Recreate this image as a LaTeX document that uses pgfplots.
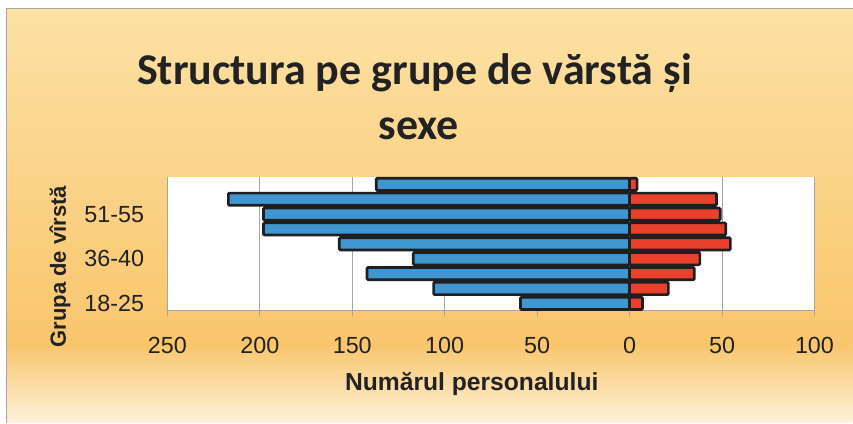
\documentclass[border=0pt]{standalone}
\usepackage{pgfplots}
\pgfplotsset{compat=1.18}
\usepackage{fontspec}
\setmainfont{Liberation Sans}
\newfontfamily\titlefont{Carlito}
\definecolor{barblue}{HTML}{3F96D1}
\definecolor{barred}{HTML}{EA412C}
\definecolor{bgtop}{HTML}{FCE1A4}
\definecolor{bgmid}{HTML}{F9C56C}
\definecolor{bgbot}{HTML}{FEF1DA}
\definecolor{gridgray}{HTML}{A5A5A5}
\definecolor{txt}{HTML}{222222}
\begin{document}
\begin{tikzpicture}
\path (0pt,0pt) rectangle (639.75pt,317.25pt);
\fill[white] (0pt,0pt) rectangle (639.75pt,317.25pt);
\shade[top color=bgtop, bottom color=bgmid] (5.25pt,58.5pt) rectangle (639.75pt,310.5pt);
\shade[top color=bgmid, bottom color=bgbot] (5.25pt,0pt) rectangle (639.75pt,58.9pt);
\draw[gray!70, line width=0.75pt] (5.25pt,0pt) -- (5.25pt,310.5pt) -- (639.75pt,310.5pt);
\node[font=\titlefont\bfseries\fontsize{33}{40}\selectfont, text=txt, anchor=base] at (311pt,253.5pt) {Structura pe grupe de vărstă și};
\node[font=\titlefont\bfseries\fontsize{33}{40}\selectfont, text=txt, anchor=base] at (314.25pt,212.25pt) {sexe};
\begin{axis}[
  at={(125.6pt,84pt)}, anchor=south west,
  width=485.6pt, height=100.5pt, scale only axis,
  xmin=-250, xmax=100, ymin=0.5, ymax=9.5,
  axis background/.style={fill=white},
  axis x line*=bottom, axis y line*=left,
  axis line style={gridgray, line width=0.75pt},
  xtick={-250,-200,-150,-100,-50,0,50,100},
  xticklabels={250,200,150,100,50,0,50,100},
  ytick={1,4,7},
  yticklabels={18-25,36-40,51-55},
  xmajorgrids, grid style={gridgray, line width=0.75pt},
  major x tick style={gridgray, line width=0.75pt},
  xtick align=outside, major tick length=4pt,
  major y tick style={draw=none},
  tick label style={font=\fontsize{17.5}{20}\selectfont, text=txt},
  xticklabel style={anchor=base, yshift=-28pt},
  yticklabel style={xshift=-10pt},
  /pgf/number format/assume math mode=true,
  xbar, bar width=0.82,
  clip=false,
]
\addplot[xbar, bar shift=0pt, fill=barblue, draw=black!88, line width=2pt, rounded corners=0.8pt] coordinates {
(-59,1) (-106,2) (-142,3) (-117,4) (-157,5) (-198,6) (-198,7) (-217,8) (-137,9)};
\addplot[xbar, bar shift=0pt, fill=barred, draw=black!88, line width=2pt, rounded corners=0.8pt] coordinates {
(7,1) (21,2) (35,3) (38,4) (54.5,5) (52,6) (49,7) (47,8) (4,9)};
\end{axis}
\node[font=\bfseries\fontsize{18.5}{22}\selectfont, text=txt, anchor=base] at (354pt,24pt) {Numărul personalului};
\node[font=\bfseries\fontsize{16.5}{20}\selectfont, text=txt, rotate=90, anchor=center] at (45pt,117pt) {Grupa de vîrstă};
\end{tikzpicture}
\end{document}
